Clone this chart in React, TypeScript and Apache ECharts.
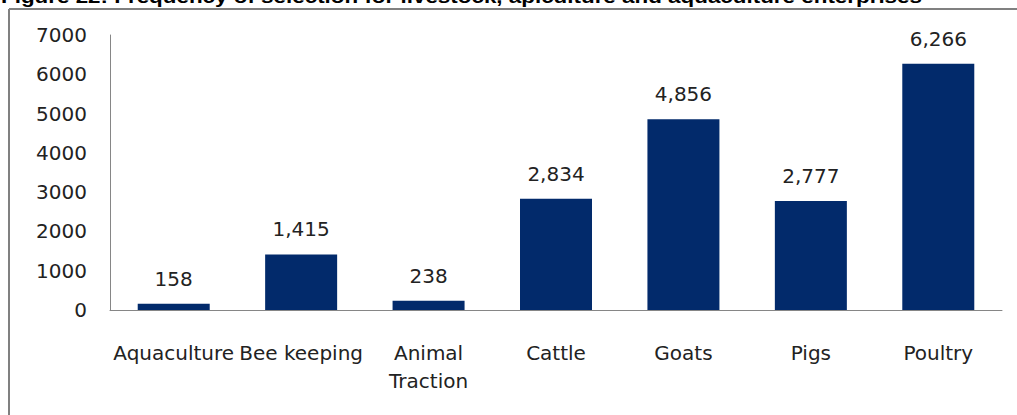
import React, { useEffect, useRef } from "react";
import * as echarts from "echarts";

const categories = ["Aquaculture", "Bee keeping", "Animal\nTraction", "Cattle", "Goats", "Pigs", "Poultry"];
const values = [158, 1415, 238, 2834, 4856, 2777, 6266];
const yTicks = { min: 0, max: 7000, interval: 1000 };
const titleText = "Figure 22: Frequency of selection for livestock, apiculture and aquaculture enterprises";

export default function App() {
  const ref = useRef<HTMLDivElement>(null);
  useEffect(() => {
    document.body.style.margin = "0";
    const chart = echarts.init(ref.current!, null, { renderer: "svg" });
    const font = "DejaVu Sans";
    chart.setOption({
      animation: false,
      backgroundColor: "#ffffff",
      grid: { left: 110, right: 15, top: 35, bottom: 105, containLabel: false },
      graphic: [
        {
          type: "text",
          x: 1,
          y: -12,
          scaleX: 1.245,
          style: { text: titleText, font: "bold 18px 'Liberation Sans', Arial, sans-serif", fill: "#000" },
        },
        { type: "line", shape: { x1: 9, y1: 9, x2: 1017, y2: 9 }, style: { stroke: "#808080", lineWidth: 2 } },
        { type: "line", shape: { x1: 9, y1: 9, x2: 9, y2: 415 }, style: { stroke: "#808080", lineWidth: 2 } },
      ],
      xAxis: {
        type: "category",
        data: categories,
        axisLine: { show: true, lineStyle: { color: "#868686", width: 1 } },
        axisTick: { show: false },
        axisLabel: { fontFamily: font, fontSize: 20, color: "#222", margin: 29, lineHeight: 28, interval: 0 },
      },
      yAxis: {
        type: "value",
        min: yTicks.min,
        max: yTicks.max,
        interval: yTicks.interval,
        splitLine: { show: false },
        axisLine: { show: true, lineStyle: { color: "#868686", width: 1 } },
        axisTick: { show: false },
        axisLabel: { fontFamily: font, fontSize: 20, color: "#222", margin: 23, formatter: (v: number) => String(v) },
      },
      series: [
        {
          type: "bar",
          data: values,
          barWidth: "56.5%",
          itemStyle: { color: "#022a6b" },
          label: {
            show: true,
            position: "top",
            distance: 15,
            fontFamily: font,
            fontSize: 20,
            color: "#222",
            formatter: (p: any) => Number(p.value).toLocaleString("en-US"),
          },
        },
      ],
    });
    return () => chart.dispose();
  }, []);
  return <div ref={ref} style={{ width: 1017, height: 415 }} />;
}
